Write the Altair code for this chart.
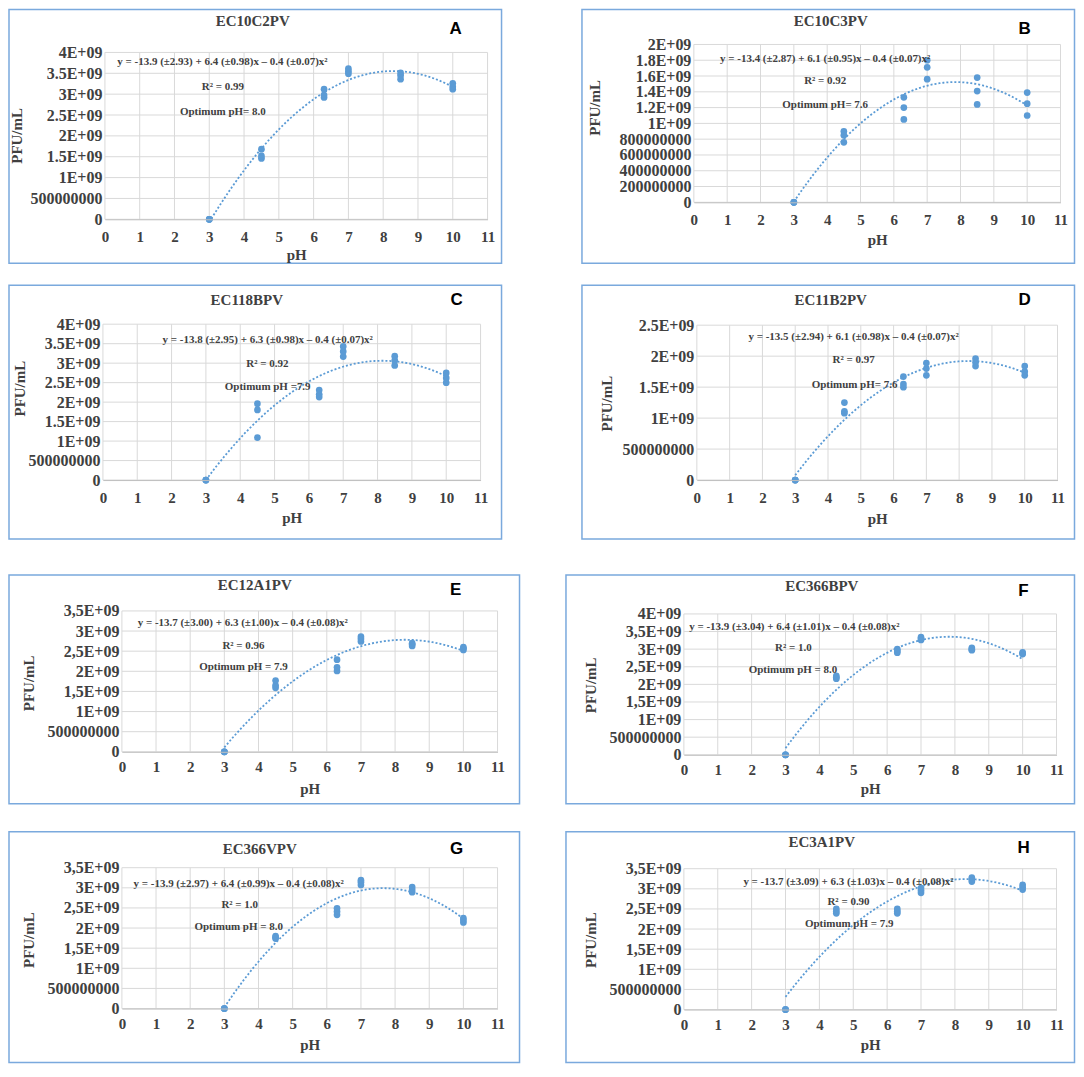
import altair as alt
import pandas as pd

# ---------------- data ----------------
PH = [3, 4.5, 6.3, 7, 8.5, 10]
X_TICKS = list(range(12))

A_pfu = [[0, 0, 0], [1.46e9, 1.52e9, 1.68e9], [2.92e9, 2.98e9, 3.12e9], [3.49e9, 3.55e9, 3.61e9], [3.36e9, 3.45e9, 3.51e9], [3.12e9, 3.18e9, 3.26e9]]
B_pfu = [[0, 0, 0], [0.76e9, 0.85e9, 0.90e9], [1.05e9, 1.20e9, 1.33e9], [1.56e9, 1.71e9, 1.80e9], [1.24e9, 1.41e9, 1.58e9], [1.10e9, 1.25e9, 1.39e9]]
C_pfu = [[0, 0, 0], [1.09e9, 1.80e9, 1.96e9], [2.13e9, 2.20e9, 2.31e9], [3.17e9, 3.30e9, 3.43e9], [2.94e9, 3.07e9, 3.18e9], [2.50e9, 2.62e9, 2.75e9]]
D_pfu = [[0, 0, 0], [1.08e9, 1.11e9, 1.25e9], [1.50e9, 1.55e9, 1.67e9], [1.69e9, 1.80e9, 1.89e9], [1.84e9, 1.90e9, 1.96e9], [1.69e9, 1.75e9, 1.84e9]]
E_pfu = [[0, 0, 0], [1.59e9, 1.65e9, 1.77e9], [2.01e9, 2.10e9, 2.29e9], [2.74e9, 2.80e9, 2.86e9], [2.63e9, 2.67e9, 2.70e9], [2.53e9, 2.57e9, 2.60e9]]
F_pfu = [[0, 0, 0], [2.16e9, 2.20e9, 2.24e9], [2.90e9, 2.95e9, 3.00e9], [3.26e9, 3.30e9, 3.34e9], [2.97e9, 3.00e9, 3.04e9], [2.86e9, 2.88e9, 2.91e9]]
G_pfu = [[0, 0, 0], [1.74e9, 1.77e9, 1.80e9], [2.33e9, 2.41e9, 2.49e9], [3.07e9, 3.14e9, 3.19e9], [2.89e9, 2.95e9, 3.02e9], [2.14e9, 2.20e9, 2.25e9]]
H_pfu = [[0, 0, 0], [2.39e9, 2.44e9, 2.50e9], [2.39e9, 2.44e9, 2.50e9], [2.90e9, 2.96e9, 3.02e9], [3.18e9, 3.23e9, 3.28e9], [2.98e9, 3.04e9, 3.10e9]]

TICKS_4E9 = [0, 5e8, 1e9, 1.5e9, 2e9, 2.5e9, 3e9, 3.5e9, 4e9]
LABELS_4E9 = ["0", "500000000", "1E+09", "1.5E+09", "2E+09", "2.5E+09", "3E+09", "3.5E+09", "4E+09"]
TICKS_2E9 = [0, 2e8, 4e8, 6e8, 8e8, 1e9, 1.2e9, 1.4e9, 1.6e9, 1.8e9, 2e9]
LABELS_2E9 = ["0", "200000000", "400000000", "600000000", "800000000", "1E+09", "1.2E+09", "1.4E+09", "1.6E+09", "1.8E+09", "2E+09"]
TICKS_25E9 = [0, 5e8, 1e9, 1.5e9, 2e9, 2.5e9]
LABELS_25E9 = ["0", "500000000", "1E+09", "1.5E+09", "2E+09", "2.5E+09"]
TICKS_35E9C = [0, 5e8, 1e9, 1.5e9, 2e9, 2.5e9, 3e9, 3.5e9]
LABELS_35E9C = ["0", "500000000", "1E+09", "1,5E+09", "2E+09", "2,5E+09", "3E+09", "3,5E+09"]
TICKS_4E9C = [0, 5e8, 1e9, 1.5e9, 2e9, 2.5e9, 3e9, 3.5e9, 4e9]
LABELS_4E9C = ["0", "500000000", "1E+09", "1,5E+09", "2E+09", "2,5E+09", "3E+09", "3,5E+09", "4E+09"]

NAMES = ["EC10C2PV", "EC10C3PV", "EC118BPV", "EC11B2PV", "EC12A1PV", "EC366BPV", "EC366VPV", "EC3A1PV"]
LETTERS = ["A", "B", "C", "D", "E", "F", "G", "H"]
EQUATIONS = [
    "y = -13.9 (±2.93) + 6.4 (±0.98)x – 0.4 (±0.07)x²",
    "y = -13.4 (±2.87) + 6.1 (±0.95)x – 0.4 (±0.07)x²",
    "y = -13.8 (±2.95) + 6.3 (±0.98)x – 0.4 (±0.07)x²",
    "y = -13.5 (±2.94) + 6.1 (±0.98)x – 0.4 (±0.07)x²",
    "y = -13.7 (±3.00) + 6.3 (±1.00)x – 0.4 (±0.08)x²",
    "y = -13.9 (±3.04) + 6.4 (±1.01)x – 0.4 (±0.08)x²",
    "y = -13.9 (±2.97) + 6.4 (±0.99)x – 0.4 (±0.08)x²",
    "y = -13.7 (±3.09) + 6.3 (±1.03)x – 0.4 (±0,08)x²",
]
R2 = ["R² = 0.99", "R² = 0.92", "R² = 0.92", "R² = 0.97", "R² = 0.96", "R² = 1.0", "R² = 1.0", "R² = 0.90"]
OPTIMA = ["Optimum pH= 8.0", "Optimum pH= 7.6", "Optimum pH =7.9", "Optimum pH= 7.6",
          "Optimum pH = 7.9", "Optimum pH = 8.0", "Optimum pH = 8.0", "Optimum pH = 7.9"]

PFU = [A_pfu, B_pfu, C_pfu, D_pfu, E_pfu, F_pfu, G_pfu, H_pfu]
TICKS = [TICKS_4E9, TICKS_2E9, TICKS_4E9, TICKS_25E9, TICKS_35E9C, TICKS_4E9C, TICKS_35E9C, TICKS_35E9C]
TLABELS = [LABELS_4E9, LABELS_2E9, LABELS_4E9, LABELS_25E9, LABELS_35E9C, LABELS_4E9C, LABELS_35E9C, LABELS_35E9C]

# ---------------- layout / style (pixels, relative to each panel frame) ----------------
# FW/FH frame size; L/W plot left & width; T/H plot top & height
GEOM = [
    dict(FW=493, FH=254, L=96, W=383, T=43, H=167, tx=244, ty=12, lx=447, ly=20,
         ytx=-88, yty=126, xty=35, xlp=10, ann=[(3.38, 3.76e9), (3.39, 3.18e9), (3.39, 2.57e9)]),
    dict(FW=493, FH=254, L=112, W=367, T=35, H=158, tx=249, ty=12, lx=443, ly=20,
         ytx=-99, yty=98, xty=37, xlp=10, ann=[(3.94, 1.82e9), (3.94, 1.54e9), (3.94, 1.23e9)]),
    dict(FW=493, FH=254, L=94, W=378, T=39, H=156, tx=238, ty=15, lx=448, ly=15,
         ytx=-83, yty=103, xty=37, xlp=10, ann=[(4.80, 3.60e9), (4.79, 2.99e9), (4.80, 2.38e9)]),
    dict(FW=493, FH=254, L=115, W=361, T=40, H=155, tx=249, ty=15, lx=443, ly=15,
         ytx=-90, yty=118, xty=38, xlp=10, ann=[(4.78, 2.31e9), (4.78, 1.94e9), (4.81, 1.53e9)]),
    dict(FW=511, FH=229, L=113, W=376, T=36, H=141, tx=246, ty=10, lx=447, ly=15,
         ytx=-93, yty=108, xty=37, xlp=8, ann=[(3.54, 3.19e9), (3.56, 2.64e9), (3.56, 2.10e9)]),
    dict(FW=509, FH=229, L=118, W=373, T=39, H=141, tx=256, ty=11, lx=458, ly=16,
         ytx=-93, yty=110, xty=34, xlp=8, ann=[(3.26, 3.64e9), (3.23, 3.04e9), (3.22, 2.42e9)]),
    dict(FW=511, FH=231, L=113, W=376, T=36, H=141, tx=251, ty=17, lx=448, ly=17,
         ytx=-93, yty=108, xty=36, xlp=8, ann=[(3.42, 3.09e9), (3.45, 2.57e9), (3.42, 2.02e9)]),
    dict(FW=509, FH=231, L=118, W=373, T=37, H=141, tx=256, ty=10, lx=458, ly=16,
         ytx=-93, yty=108, xty=35, xlp=8, ann=[(4.86, 3.16e9), (4.86, 2.67e9), (4.88, 2.12e9)]),
]

SERIF = "Liberation Serif"
SANS = "Liberation Sans"
TXT = "#404040"
BLUE = "#5b9bd5"
FRAME = "#7aa9dd"
GRID = "#d9d9d9"


def make_panel(i):
    g = GEOM[i]
    L, W, T, H, FW, FH = g["L"], g["W"], g["T"], g["H"], g["FW"], g["FH"]
    Bm = FH - T - H
    rows = [{"pH": p, "pfu": v} for p, vs in zip(PH, PFU[i]) for v in vs]
    df = pd.DataFrame(rows)
    yt = TICKS[i]
    yl = TLABELS[i]
    ymax = yt[-1]
    expr = ("[" + ",".join("'" + s + "'" for s in yl) + "][indexof(["
            + ",".join(str(int(v)) for v in yt) + "], datum.value)]")

    xs = alt.Scale(domain=[0, 11], range=[L, L + W], nice=False, zero=False)
    ys = alt.Scale(domain=[0, ymax], range=[T + H, T], nice=False, zero=False)

    xenc = alt.X("pH:Q", scale=xs,
                 axis=alt.Axis(values=X_TICKS, title="pH", grid=False, offset=-Bm, zindex=1,
                               domain=True, domainColor="#bfbfbf", domainWidth=1,
                               ticks=False, tickSize=0, labelPadding=g["xlp"],
                               labelFont=SERIF, labelFontSize=15, labelFontWeight="bold",
                               labelColor=TXT, labelFlush=False, labelOverlap=False,
                               titleFont=SERIF, titleFontSize=15, titleFontWeight="bold",
                               titleColor=TXT, titleX=L + W / 2, titleY=g["xty"],
                               titleBaseline="middle", titleAlign="center"))
    yenc = alt.Y("pfu:Q", scale=ys,
                 axis=alt.Axis(values=yt, labelExpr=expr, title="PFU/mL", grid=False, offset=-L,
                               zindex=1, domain=False, ticks=False, tickSize=0, labelPadding=3,
                               labelFont=SERIF, labelFontSize=16, labelFontWeight="bold",
                               labelColor=TXT, labelFlush=False, labelOverlap=False,
                               titleFont=SERIF, titleFontSize=15, titleFontWeight="bold",
                               titleColor=TXT, titleX=g["ytx"], titleY=g["yty"], titleAngle=270,
                               titleBaseline="middle", titleAlign="center"))

    # grid lines drawn through the scales
    vgrid_df = pd.DataFrame({"pH": X_TICKS, "pfu": [0] * len(X_TICKS), "pfu2": [ymax] * len(X_TICKS)})
    hgrid_df = pd.DataFrame({"pfu": yt, "pH": [0] * len(yt), "pH2": [11] * len(yt)})
    vgrid = alt.Chart(vgrid_df).mark_rule(color=GRID, strokeWidth=1).encode(
        x=xenc, y=yenc, y2="pfu2:Q")
    hgrid = alt.Chart(hgrid_df).mark_rule(color=GRID, strokeWidth=1).encode(
        y=yenc, x=xenc, x2="pH2:Q")

    base = alt.Chart(df)
    line = (base.transform_regression("pH", "pfu", method="poly", order=2, extent=[3, 10])
            .mark_line(color=BLUE, strokeWidth=1.8, strokeDash=[2, 2])
            .encode(x=xenc, y=yenc))
    pts = base.mark_circle(size=45, color=BLUE, opacity=1).encode(x=xenc, y=yenc)

    ann_df = pd.DataFrame({
        "pH": [a[0] for a in g["ann"]],
        "pfu": [a[1] for a in g["ann"]],
        "label": [EQUATIONS[i], R2[i], OPTIMA[i]],
    })
    ann = alt.Chart(ann_df).mark_text(font=SERIF, fontSize=11, fontWeight="bold", color=TXT,
                                      align="center", baseline="middle").encode(
        x=xenc, y=yenc, text="label:N")

    one = alt.Data(values=[{}])
    title = alt.Chart(one).mark_text(text=NAMES[i], font=SERIF, fontSize=15, fontWeight="bold",
                                     color=TXT, align="center", baseline="middle").encode(
        x=alt.value(g["tx"]), y=alt.value(g["ty"]))
    letter = alt.Chart(one).mark_text(text=LETTERS[i], font=SANS, fontSize=17, fontWeight="bold",
                                      color="black", align="center", baseline="middle").encode(
        x=alt.value(g["lx"]), y=alt.value(g["ly"]))

    return alt.layer(vgrid, hgrid, line, pts, ann, title, letter).properties(width=FW, height=FH)


P = [make_panel(i) for i in range(8)]

row1 = alt.hconcat(P[0], P[1], spacing=78.5)
row2 = alt.hconcat(P[2], P[3], spacing=78.5)
row3 = alt.hconcat(P[4], P[5], spacing=44.5)
row4 = alt.hconcat(P[6], P[7], spacing=44.5)
top = alt.vconcat(row1, row2, spacing=20)
bottom = alt.vconcat(row3, row4, spacing=26)

chart = (alt.vconcat(top, bottom, spacing=34)
         .properties(padding=0)
         .configure_view(stroke=FRAME, strokeWidth=1.5))

chart.save("out.html", embed_options={"renderer": "svg", "actions": False})
